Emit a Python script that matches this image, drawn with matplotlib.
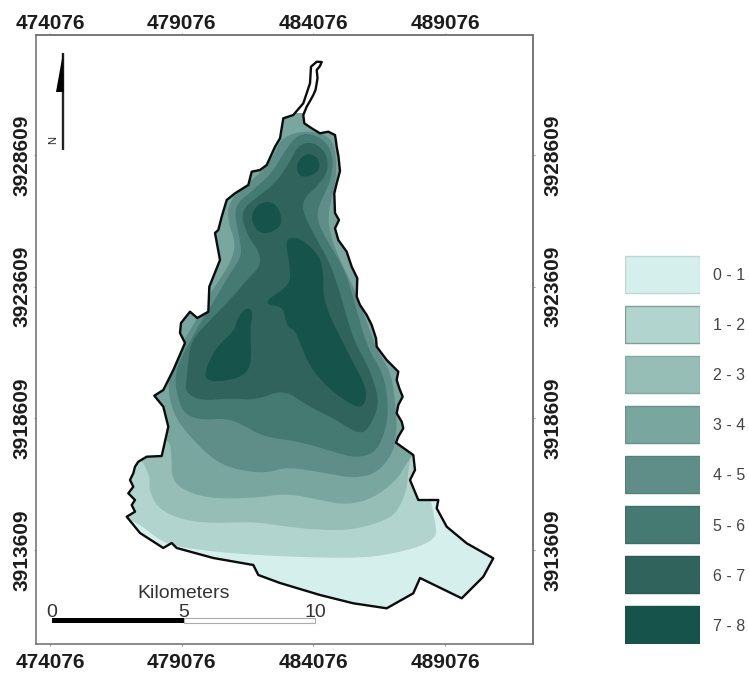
import numpy as np
import matplotlib
matplotlib.use("Agg")
import matplotlib.pyplot as plt
from matplotlib.patches import Polygon

plt.rcParams['font.family'] = ['Liberation Sans', 'DejaVu Sans']

# axis ticks (map metres)
east_ticks = [474076, 479076, 484076, 489076]
north_ticks = [3913609, 3918609, 3923609, 3928609]
class_labels = ['0 - 1', '1 - 2', '2 - 3', '3 - 4', '4 - 5', '5 - 6', '6 - 7', '7 - 8']
class_colors = ['#d5f0ec', '#b2d4cf', '#96bdb6', '#7aa6a0', '#5f8e88', '#447a72', '#2f635c', '#15534b']
class_edges = ['#bcd8d4', '#7f9d99', '#85a8a2', '#6a908b', '#55807a', '#3f6f68', '#2a5a54', '#15534b']
scale_km = [0, 5, 10]

# Digitised outlines, in sheet units; georeferenced below from the tick positions
boundary = [(321.7,62),(320,66),(316.7,70),(317.5,78),(316.7,83.3),(315.5,90),(313.3,95),(310,101),(306.7,106.7),(303.3,115),
 (304.3,123.3),(311.7,128.3),(320,133.3),(328.3,131.7),(335,135),(336,141),(336.7,146.7),(338.5,156.7),(340,171),(336.7,183.3),
 (334.3,193.3),(335,213),(339,220),(335,228.3),(338.3,240),(346.7,251.7),(351.7,266.7),(357.3,278.3),
 (356.7,296.7),(360,305),(366.7,315),(371.7,325),(376,338.3),(376.7,346.7),(386.7,360),(398.3,371.7),(396.7,380),(399.3,388.3),
 (402.7,396.7),(398.3,405),(396.7,413.3),(401.7,421.7),(403.3,428.3),(398.3,436.7),(396,442.7),(413.3,455),(415,470),(410,480),(418.3,500),(438.3,500),
 (436.7,508.3),(446.7,526.7),(466.7,543.3),(493.3,558.3),(483.3,576.7),(461.7,598.3),(420,578),(413.3,593.3),(386.7,608.3),
 (353.3,603.3),(320,595),(280,583),(258.3,575),(253.3,565),(213.3,558),(176.7,548),(171.7,543),(163.3,548),(140,533),
 (126.7,516.7),(135,511.7),(131.7,505),(135,500),(128.3,493.3),(133.3,486.7),(130,480),(133.3,473.3),(135,466.7),(138.3,461.7),(146.7,456.7),(161.7,456),(168.3,426.7),(163.3,406.7),
 (154.3,395.7),(163.3,390),(173.3,370),(185,343),(180,333),(181,323),(190,311.7),(197.3,318),(208.3,311.7),(209.3,286.7),
 (220,260),(215,233),(218.3,230),(221.7,216.7),(226.7,200),(235,193.3),(248.3,185),(251.7,171.7),(260,170),(266.7,165),(275,146.7),(280,138.3),(283.3,118.3),
 (293.3,115),(303.3,103.3),(310,83.3),(311,66.7),(316.7,61.7)]

class0 = [(100,113),(520,113),(520,620),(100,620)]
class1 = [(110,515),(136.7,521.7),(163.3,543.3),(186.7,548.3),(230,553.3),(286.7,556.7),(353.3,558.3),(386.7,555),(420,546.7),
 (435,538),(436.7,530),(431.7,505),(430,495),(480,480),(480,113),(100,113)]
class2 = [(140,456),(150,476.7),(149.3,490),(156.7,506.7),(176.7,518.3),(206.7,523.3),(253.3,521.7),(286.7,526.7),(320,530),
 (353.3,530),(386.7,520),(398.3,510),(406.7,490),(408.3,470),(412,450),(470,440),(470,113),(110,113),(110,450)]
class3 = [(150,430),(170,440),(171.7,460),(171.7,476.7),(180,488.3),(206.7,498.3),(253.3,498.3),(286.7,493.3),(320,500),
 (346.7,505),(373.3,498.3),(396.7,480),(406.7,463),(415,452),(460,440),(460,113),(120,113),(120,420)]
class4 = [(170,400),(175,416.7),(190,436.7),(213.3,460),(236.7,470),(266.7,473.3),(286.7,466.7),(326.7,473.3),(353.3,478.3),
 (376.7,473.3),(393.3,453.3),(396.7,430),(396,410),(391.7,373.3),(376.7,350),(365,316.7),(351.7,283.3),(336.7,253.3),
 (328.3,226.7),(329.3,206.7),(335,186.7),(336.7,163.3),(333.3,140),(316.7,131.7),(296.7,131.7),(280,140),(273.3,156.7),
 (260,173.3),(243.3,186.7),(228.3,203.3),(228.3,223.3),(235,240),(233.3,256.7),(221.7,276.7),(210,293.3),(198.3,316.7),
 (170,363),(168.3,386.7)]
class5 = [(176.7,393.3),(183.3,413.3),(200,420),(226.7,418.3),(243.3,425),(263.3,436.7),(300,441.7),(333.3,451.7),(356.7,458.3),
 (376.7,451.7),(386.7,426.7),(388.3,403.3),(383.3,373.3),(366.7,346.7),(353.3,296.7),(343.3,266.7),(326.7,240),(316.7,220),
 (319.3,203.3),(330,183.3),(333.3,163.3),(330,146.7),(316.7,135),(298.3,133.3),(283.3,153.3),(271.7,173.3),(253.3,190),
 (236.7,203.3),(235,216.7),(240,240),(241.7,256.7),(230,273.3),(216.7,296.7),(200,323),(178.3,363),(175,380)]
class6 = [(186.7,380),(185,391.7),(200,400.7),(230,398.3),(256.7,400),(283.3,389.3),(306.7,405),(333.3,418.3),(360,435),
 (370,426.7),(378.3,406.7),(376.7,390),(366.7,363.3),(353.3,340),(340,293),(330,263),(315,236.7),(301.7,210),(305,196.7),
 (316.7,186.7),(328.3,171.7),(326.7,153.3),(313.3,141.7),(298.3,145),(290,161.7),(276.7,181.7),(260,195),(245,206.7),
 (241.7,218),(248.3,236.7),(260,253),(260,266.7),(246.7,280),(230,300),(210,320),(191.7,340),(188.3,360)]
class7a = [(296.7,165),(301.7,156.7),(310,153.3),(318.3,158.3),(320,168.3),(313.3,175),(301.7,177.3),(297.3,171.7)]
class7b = [(250.7,216.7),(256.7,205),(268.3,200.7),(278.3,206.7),(282.3,221.7),(276.7,230),(263.3,234.3),(255,228.3)]
class7c = [(285.7,243.3),(290,236.7),(303.3,240),(320,256.7),(323.3,273.3),(323.3,296.7),(330,316.7),(340,336.7),(353.3,363),
 (365,385),(366.7,400),(360,408.3),(346.7,401.7),(326.7,386.7),(310,366.7),(300,343),(295,330),(286.7,326.7),(283.3,306.7),
 (268.3,305),(266.7,300),(290,285),(290,266.7)]
class7d = [(245,308),(253.3,310),(250,330),(251.7,363),(243.3,376.7),(220,381.7),(205,380),(206,368),(216.7,346.7),(235,330),(236.7,320)]

layers = [(0, class0), (1, class1), (2, class2), (3, class3), (4, class4), (5, class5), (6, class6),
          (7, class7a), (7, class7b), (7, class7c), (7, class7d)]

W, H = 749, 673
FL, FR, FT, FB = 36, 533, 35, 644          # frame edges in the sheet
M_PER_UNIT = 5000 / 131.7

def to_map(pts):
    a = np.asarray(pts, float)
    return np.column_stack((474076 + (a[:, 0] - 50) * M_PER_UNIT,
                            3928609 - (a[:, 1] - 155) * M_PER_UNIT))

def chaikin(p, n=2):
    for _ in range(n):
        q = np.roll(p, -1, axis=0)
        p = np.column_stack((0.75 * p + 0.25 * q, 0.25 * p + 0.75 * q)).reshape(-1, 2)
    return p

fig = plt.figure(figsize=(W / 100, H / 100), dpi=100, facecolor='white')
ax = fig.add_axes([FL / W, 1 - FB / H, (FR - FL) / W, (FB - FT) / H])
ax.set_xlim(to_map([(FL, 0)])[0, 0], to_map([(FR, 0)])[0, 0])
ax.set_ylim(to_map([(0, FB)])[0, 1], to_map([(0, FT)])[0, 1])

outline = to_map(boundary)
clip = Polygon(outline, closed=True, transform=ax.transData)
for k, pts in layers:
    p = to_map(pts)
    if k > 0:
        p = chaikin(p)
    poly = ax.fill(p[:, 0], p[:, 1], color=class_colors[k], lw=0, zorder=2)[0]
    poly.set_clip_path(clip)
ax.add_patch(Polygon(outline, closed=True, fill=False, ec='#0c0c0c', lw=1.7, joinstyle='round', zorder=3))

# frame and ticks
for s in ax.spines.values():
    s.set_color('#777777')
    s.set_linewidth(1.2)
tick_style = dict(length=1.5, width=0.6, color='#888888', labelsize=15, labelcolor='#1c1c1c')
ax.set_xticks(east_ticks)
ax.set_xticklabels([str(v) for v in east_ticks], fontweight='bold')
ax.set_yticks(north_ticks)
ax.set_yticklabels([str(v) for v in north_ticks], rotation=90, va='center', fontweight='bold')
ax.tick_params(axis='x', pad=5, **tick_style)
ax.tick_params(axis='y', pad=2, **tick_style)

top = ax.secondary_xaxis('top')
top.set_xticks(east_ticks)
top.set_xticklabels([str(v) for v in east_ticks], fontweight='bold')
top.tick_params(axis='x', pad=0, **tick_style)
right = ax.secondary_yaxis('right')
right.set_yticks(north_ticks)
right.set_yticklabels([str(v) for v in north_ticks], rotation=90, va='center', fontweight='bold')
right.tick_params(axis='y', pad=6, **tick_style)
for sec in (top, right):
    for s in sec.spines.values():
        s.set_color('#777777')
        s.set_linewidth(1.2)

# scale bar
bar_x0 = to_map([(52, 0)])[0, 0]
bar_y = to_map([(0, 620.5)])[0, 1]
bar_h = 4 * M_PER_UNIT
ax.barh(bar_y, 5000, left=bar_x0, height=bar_h, color='black', lw=0, zorder=4)
ax.barh(bar_y, 5000, left=bar_x0 + 5000, height=bar_h, color='white', ec='#aaaaaa', lw=0.8, zorder=4)
for km in scale_km:
    ax.text(bar_x0 + km * 1000, to_map([(0, 617)])[0, 1], str(km), ha='center', va='baseline',
            fontsize=14, color='#333333', zorder=5)
ax.text(bar_x0 + 5000, to_map([(0, 598)])[0, 1], 'Kilometers', ha='center', va='baseline',
        fontsize=14, color='#333333', zorder=5)

# north arrow
arrow_x = to_map([(63, 0)])[0, 0]
ay = to_map([(0, 53), (0, 92), (0, 150)])[:, 1]
ax.plot([arrow_x, arrow_x], [ay[0], ay[2]], color='#222222', lw=1.7, solid_capstyle='butt', zorder=4)
ax.fill([arrow_x, arrow_x - 7 * M_PER_UNIT, arrow_x + 0.8 * M_PER_UNIT],
        [ay[0], ay[1], ay[1]], color='black', lw=0, zorder=4)
ax.text(arrow_x - 10 * M_PER_UNIT, to_map([(0, 140)])[0, 1], 'N', rotation=90, ha='center', va='center',
        fontsize=8, color='#222222', zorder=5)

# legend
lax = fig.add_axes([625 / W, 1 - 643.5 / H, 74.5 / W, 388.5 / H])
rows = np.arange(len(class_labels))
lax.barh(rows, [1] * len(rows), height=37 / 50, color=class_colors, edgecolor=class_edges, linewidth=1.0)
lax.set_xlim(0, 1)
lax.set_ylim(7.375, -0.383)
lax.set_xticks([])
lax.set_yticks(rows)
lax.set_yticklabels(class_labels)
lax.yaxis.tick_right()
lax.tick_params(axis='y', length=0, pad=10, labelsize=11.5, labelcolor='#444444')
for s in lax.spines.values():
    s.set_visible(False)
lax.patch.set_alpha(0)

fig.savefig('out.png', dpi=100)
